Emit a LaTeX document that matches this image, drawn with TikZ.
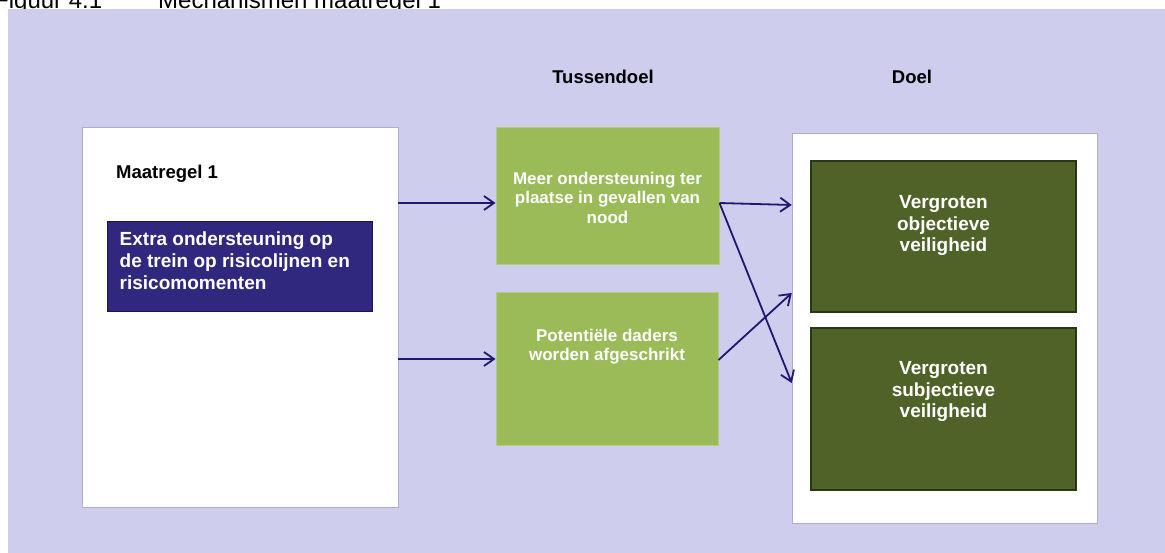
\documentclass[tikz,border=0pt]{standalone}
\usepackage{fontspec}
\setmainfont{Liberation Sans}
\usetikzlibrary{positioning,arrows.meta}
\definecolor{lavender}{RGB}{206,205,238}
\definecolor{measureblue}{RGB}{48,40,126}
\definecolor{subgoalgreen}{RGB}{155,187,89}
\definecolor{goalgreen}{RGB}{79,98,40}
\definecolor{linkblue}{RGB}{30,24,110}
\tikzset{
  every picture/.style={font={\bfseries}, >={Straight Barb[length=10pt,width=14pt]}},
  panel/.style={fill=white, draw=lavender!85!black, line width=0.5pt, inner sep=0pt},
  measurebox/.style={fill=measureblue, draw=measureblue!55!black, line width=1pt, inner sep=0pt},
  subgoalbox/.style={fill=subgoalgreen, draw=subgoalgreen!75!white, line width=1pt, inner sep=0pt},
  goalbox/.style={fill=goalgreen, draw=goalgreen!55!black, line width=1.2pt, inner sep=0pt},
  boxtext/.style={text=white, align=center, inner sep=0pt},
  heading/.style={inner sep=0pt, anchor=base, font={\bfseries\fontsize{18.5}{22}\selectfont}},
  linkarrow/.style={->, draw=linkblue, line width=1.8pt}}

\begin{document}
\begin{tikzpicture}[x=1pt, y=-1pt]
  \useasboundingbox (0,0) rectangle (1165,553);
  % caption, cut off by the frame
  \node [anchor=base west, inner sep=0pt, font={\mdseries\fontsize{24}{28}\selectfont}]
    (fignum) at (-6,9) {Figuur 4.1};
  \node [anchor=base west, inner sep=0pt, font={\mdseries\fontsize{24}{28}\selectfont}]
    (figtitle) at (158,9) {Mechanismen maatregel 1};
  \fill [lavender] (8,9) rectangle (1165,553);

  % panels
  \node [panel, minimum width=316pt, minimum height=380pt] (measurepanel) at (240,317) {};
  \node [panel, minimum width=305pt, minimum height=390pt] (goalpanel) at (944.5,328) {};

  % headings
  \node [heading, anchor=base west] (measurehead) at (116,179) {Maatregel 1};
  \node [heading] (subgoalhead) at (603,84) {Tussendoel};
  \node [heading] (goalhead) at (912,84) {Doel};

  % measure
  \node [measurebox, minimum width=265pt, minimum height=90pt] (measure) at (239.5,267) {};
  \node [boxtext, align=left, font={\bfseries\fontsize{19}{22}\selectfont},
         below right=10pt and 13pt of measure.north west, anchor=north west]
    (measuretext) {Extra ondersteuning op\\de trein op risicolijnen en\\risicomomenten};

  % intermediate goals
  \node [subgoalbox, minimum width=223pt, minimum height=137pt] (meer) at (607.5,196.5) {};
  \node [boxtext, font={\bfseries\fontsize{17}{19.5}\selectfont}, below=44pt of meer.north]
    (meertext) {Meer ondersteuning ter\\plaatse in gevallen van\\nood};
  \node [subgoalbox, minimum width=222pt, minimum height=152pt] (pot) at (607,369) {};
  \node [boxtext, font={\bfseries\fontsize{17}{19.5}\selectfont}, below=36pt of pot.north]
    (pottext) {Potentiële daders\\worden afgeschrikt};

  % goals
  \node [goalbox, minimum width=265pt, minimum height=151pt] (objective) at (943.5,236.5) {};
  \node [boxtext, font={\bfseries\fontsize{19}{21.5}\selectfont}, below=35pt of objective.north]
    (objectivetext) {Vergroten\\objectieve\\veiligheid};
  \node [goalbox, minimum width=265pt, minimum height=162pt] (subjective) at (943.5,409) {};
  \node [boxtext, font={\bfseries\fontsize{19}{21.5}\selectfont}, below=34pt of subjective.north]
    (subjectivetext) {Vergroten\\subjectieve\\veiligheid};

  % arrows
  \draw [linkarrow] ([yshift=114pt]measurepanel.east) -- ([yshift=-6.5pt]meer.west);
  \draw [linkarrow] ([yshift=-42pt]measurepanel.east) -- ([yshift=10pt]pot.west);
  \draw [linkarrow] ([yshift=-6.5pt]meer.east) -- ([yshift=123pt]goalpanel.west);
  \draw [linkarrow] ([yshift=-6.5pt]meer.east) -- ([yshift=-55pt]goalpanel.west);
  \draw [linkarrow] ([yshift=9pt]pot.east) -- ([yshift=35pt]goalpanel.west);
\end{tikzpicture}
\end{document}
